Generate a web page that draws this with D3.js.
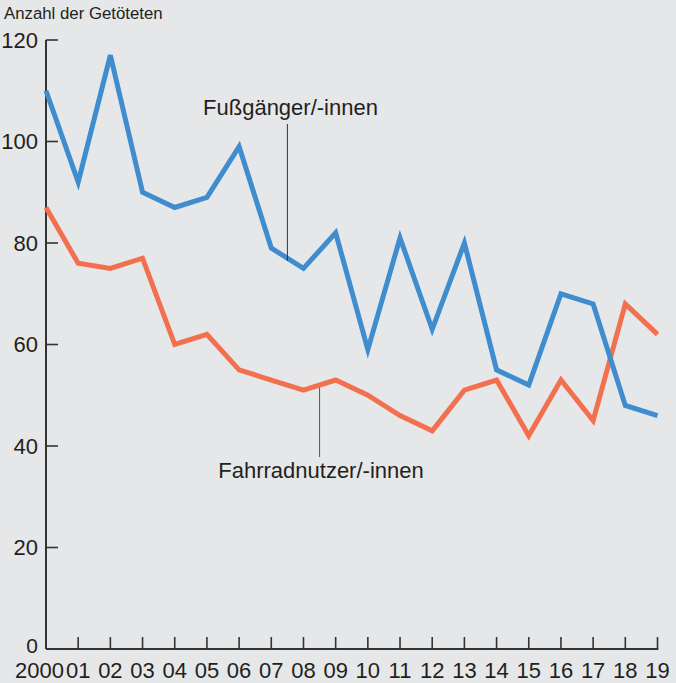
<!DOCTYPE html>
<html>
<head>
<meta charset="utf-8">
<script src="https://cdn.jsdelivr.net/npm/d3@7"></script>
<style>
html,body{margin:0;padding:0;background:#e6e7e9;}
svg{display:block;}
text{font-family:"Liberation Sans",Arial,sans-serif;fill:#231f20;}
</style>
</head>
<body>
<svg id="chart" width="676" height="683"></svg>
<script>
const years = [2000,2001,2002,2003,2004,2005,2006,2007,2008,2009,2010,2011,2012,2013,2014,2015,2016,2017,2018,2019];
const yearLabels = ["2000","01","02","03","04","05","06","07","08","09","10","11","12","13","14","15","16","17","18","19"];
const pedestrians = [110,92,117,90,87,89,99,79,75,82,59,81,63,80,55,52,70,68,48,46];
const cyclists = [87,76,75,77,60,62,55,53,51,53,50,46,43,51,53,42,53,45,68,62];
const yTicks = [0,20,40,60,80,100,120];
const yTitle = "Anzahl der Getöteten";
const seriesNames = ["Fußgänger/-innen","Fahrradnutzer/-innen"];

const svg = d3.select("#chart");
const x = d3.scaleLinear().domain([2000,2019]).range([46,657.5]);
const y = d3.scaleLinear().domain([0,120]).range([649,40]);

svg.append("rect").attr("width",676).attr("height",683).attr("fill","#e6e7e9");

// y title
svg.append("text").attr("x",4).attr("y",19).attr("font-size",16.8).text(yTitle);

// y axis
const yAxis = svg.append("g");
yAxis.append("line").attr("x1",x(2000)).attr("x2",x(2000)).attr("y1",y(120)).attr("y2",y(0))
  .attr("stroke","#333").attr("stroke-width",2);
yTicks.forEach(t=>{
  if(t>0) yAxis.append("line").attr("x1",x(2000)).attr("x2",x(2000)+12).attr("y1",y(t)).attr("y2",y(t))
    .attr("stroke","#333").attr("stroke-width",1.6);
  yAxis.append("text").attr("x",38).attr("y",y(t)+(t===0?4:7.8)).attr("text-anchor","end")
    .attr("font-size",t===0?21:22).text(t);
});

// x axis
const xAxis = svg.append("g");
xAxis.append("line").attr("x1",x(2000)).attr("x2",x(2019)+0.8).attr("y1",y(0)).attr("y2",y(0))
  .attr("stroke","#333").attr("stroke-width",2);
years.forEach((yr,i)=>{
  if(i>0) xAxis.append("line").attr("x1",x(yr)).attr("x2",x(yr)).attr("y1",y(0)).attr("y2",y(0)-12)
    .attr("stroke","#333").attr("stroke-width",1.6);
  const t = xAxis.append("text").attr("y",677.5).attr("font-size",22).text(yearLabels[i]);
  if(i===0) t.attr("x",x(yr)+18).attr("text-anchor","end");
  else t.attr("x",x(yr)).attr("text-anchor","middle");
});

const line = d3.line().x((d,i)=>x(years[i])).y(d=>y(d));
svg.append("path").datum(cyclists).attr("d",line).attr("fill","none")
  .attr("stroke","#f3704f").attr("stroke-width",5).attr("stroke-linejoin","miter");
svg.append("path").datum(pedestrians).attr("d",line).attr("fill","none")
  .attr("stroke","#3f8ccf").attr("stroke-width",5).attr("stroke-linejoin","miter");

// labels with leader lines
svg.append("line").attr("x1",x(2007.5)).attr("x2",x(2007.5)).attr("y1",124).attr("y2",y(76.5))
  .attr("stroke","#333").attr("stroke-width",1);
svg.append("text").attr("x",290.5).attr("y",115).attr("text-anchor","middle").attr("font-size",22).text(seriesNames[0]);

svg.append("line").attr("x1",x(2008.5)).attr("x2",x(2008.5)).attr("y1",y(51.5)).attr("y2",457)
  .attr("stroke","#555").attr("stroke-width",1);
svg.append("text").attr("x",321).attr("y",478).attr("text-anchor","middle").attr("font-size",22).text(seriesNames[1]);
</script>
</body>
</html>
